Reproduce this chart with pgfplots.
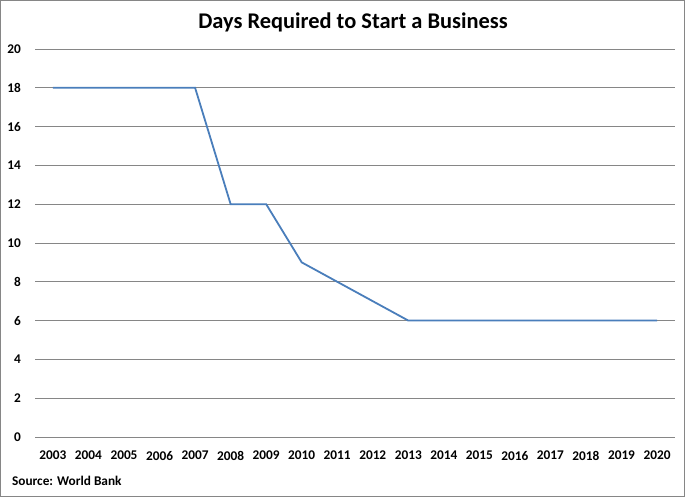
\documentclass[border=0pt]{standalone}
\usepackage{fontspec}
\setmainfont{Carlito}
\usepackage{pgfplots}
\pgfplotsset{compat=1.18}
\definecolor{lineblue}{RGB}{74,126,187}
\definecolor{gridgray}{RGB}{134,134,134}
\definecolor{bordergray}{RGB}{134,134,134}
\begin{document}
\begin{tikzpicture}[x=1bp,y=1bp]
\draw[bordergray, line width=0.8bp] (0.5,0.5) rectangle (684.5,496.5);
\node[font=\fontsize{22.4bp}{26bp}\selectfont\bfseries] at (353,474) {Days Required to Start a Business};
\node[anchor=base west, inner sep=0, font=\fontsize{13.3bp}{16bp}\selectfont\bfseries] at (12,12) {Source: World Bank};
\begin{axis}[
  at={(35.25bp,60bp)}, anchor=south west,
  scale only axis, width=639.5bp, height=388bp,
  xmin=2002.5, xmax=2020.5, ymin=0, ymax=20,
  xtick={2003,...,2020}, ytick={0,2,...,20},
  axis line style={draw=none},
  major tick length=0pt,
  ymajorgrids, grid style={gridgray, line width=0.8bp},
  /pgf/number format/assume math mode=true,
  xticklabel={\pgfmathprintnumber[1000 sep={},fixed]{\tick}},
  ticklabel style={font=\fontsize{13.3bp}{16bp}\selectfont\bfseries, inner sep=0pt},
  xticklabel style={yshift=-14bp},
  yticklabel style={xshift=-14bp},
  clip=false,
]
\addplot[lineblue, line width=1.8bp, mark=none] coordinates {
(2003,18) (2004,18) (2005,18) (2006,18) (2007,18) (2008,12) (2009,12) (2010,9) (2011,8) (2012,7) (2013,6) (2014,6) (2015,6) (2016,6) (2017,6) (2018,6) (2019,6) (2020,6)
};
\end{axis}
\end{tikzpicture}
\end{document}
